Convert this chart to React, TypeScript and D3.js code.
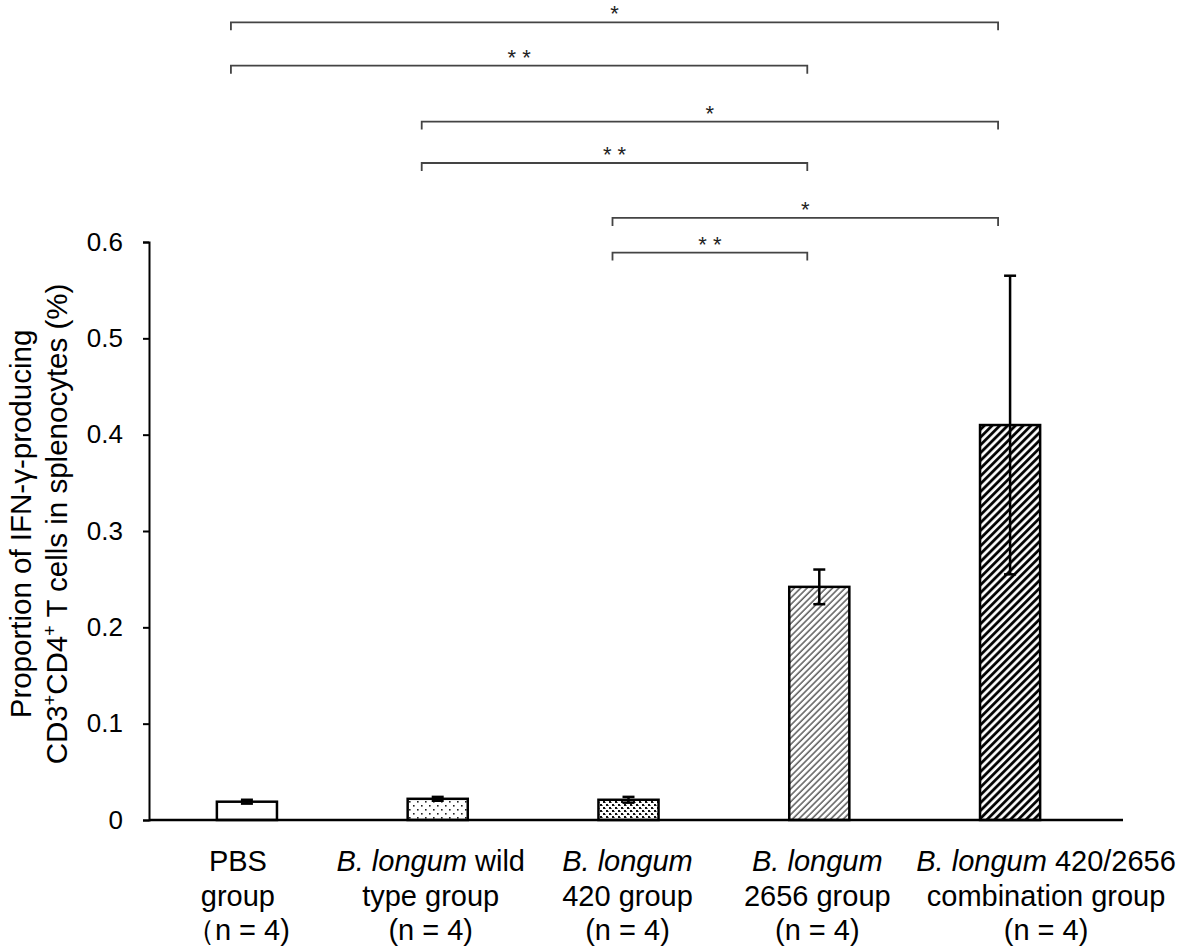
import React, { useEffect, useRef } from "react";
import * as d3 from "d3";

const groups = ["PBS", "WT", "420", "2656", "combo"];
const means = [0.019, 0.022, 0.021, 0.242, 0.41];
const errors = [0.002, 0.002, 0.003, 0.018, 0.155];
const yTicks = [0, 0.1, 0.2, 0.3, 0.4, 0.5, 0.6];
const fills = ["white", "url(#dots)", "url(#dense)", "url(#lightdiag)", "url(#darkdiag)"];

// each label is a list of lines; each line a list of [text, italic]
const xLabels: [string, boolean][][][] = [
  [[["PBS", false]], [["group", false]], [["\uff08n = 4)", false]]],
  [[["B. longum", true], [" wild", false]], [["type group", false]], [["(n = 4)", false]]],
  [[["B. longum", true]], [["420 group", false]], [["(n = 4)", false]]],
  [[["B. longum", true]], [["2656 group", false]], [["(n = 4)", false]]],
  [[["B. longum", true], [" 420/2656", false]], [["combination group", false]], [["(n = 4)", false]]],
];

// significance brackets: from group, to group, label, height (in axis units)
const bracketFrom = [0, 0, 1, 1, 2, 2];
const bracketTo = [4, 3, 4, 3, 4, 3];
const bracketStars = ["*", "* *", "*", "* *", "*", "* *"];
const bracketLevel = [0.828, 0.783, 0.725, 0.682, 0.625, 0.589];

const yTitle = ["Proportion of IFN-\u03b3-producing", "CD3\u207aCD4\u207a T cells in splenocytes (%)"];

export default function App() {
  const ref = useRef<SVGSVGElement>(null);

  useEffect(() => {
    const svg = d3.select(ref.current);
    svg.selectAll("*").remove();
    const font = "'Liberation Sans', Arial, sans-serif";

    const defs = svg.append("defs");
    const dots = defs.append("pattern").attr("id", "dots").attr("patternUnits", "userSpaceOnUse")
      .attr("width", 8).attr("height", 8);
    dots.append("rect").attr("width", 8).attr("height", 8).attr("fill", "white");
    dots.append("rect").attr("x", 1).attr("y", 1).attr("width", 1.6).attr("height", 1.6).attr("fill", "#222");
    dots.append("rect").attr("x", 5).attr("y", 5).attr("width", 1.6).attr("height", 1.6).attr("fill", "#222");

    const dense = defs.append("pattern").attr("id", "dense").attr("patternUnits", "userSpaceOnUse")
      .attr("width", 6).attr("height", 6);
    dense.append("rect").attr("width", 6).attr("height", 6).attr("fill", "white");
    dense.append("rect").attr("x", 0).attr("y", 0).attr("width", 2).attr("height", 2).attr("fill", "#111");
    dense.append("rect").attr("x", 3).attr("y", 3).attr("width", 2).attr("height", 2).attr("fill", "#111");
    dense.append("rect").attr("x", 2).attr("y", 1).attr("width", 1).attr("height", 1).attr("fill", "#777");
    dense.append("rect").attr("x", 5).attr("y", 4).attr("width", 1).attr("height", 1).attr("fill", "#777");

    const light = defs.append("pattern").attr("id", "lightdiag").attr("patternUnits", "userSpaceOnUse")
      .attr("width", 4.5).attr("height", 4.5).attr("patternTransform", "rotate(45)");
    light.append("rect").attr("width", 4.5).attr("height", 4.5).attr("fill", "white");
    light.append("line").attr("x1", 1).attr("x2", 1).attr("y1", 0).attr("y2", 4.5)
      .attr("stroke", "#333").attr("stroke-width", 1.2);

    const dark = defs.append("pattern").attr("id", "darkdiag").attr("patternUnits", "userSpaceOnUse")
      .attr("width", 5.5).attr("height", 5.5).attr("patternTransform", "rotate(45)");
    dark.append("rect").attr("width", 5.5).attr("height", 5.5).attr("fill", "white");
    dark.append("line").attr("x1", 1.5).attr("x2", 1.5).attr("y1", 0).attr("y2", 5.5)
      .attr("stroke", "#000").attr("stroke-width", 2.8);

    const axisX = 149;
    const x = d3.scaleBand().domain(groups).range([152, 1105]).paddingInner(0.685).paddingOuter(0.34);
    const y = d3.scaleLinear().domain([0, 0.6]).range([820, 242]);

    // y axis
    const yAxis = svg.append("g").attr("transform", `translate(${axisX},0)`)
      .call(d3.axisLeft(y).tickValues(yTicks).tickSize(6).tickPadding(20).tickFormat(d3.format("")));
    yAxis.select(".domain").attr("stroke", "#000").attr("stroke-width", 2);
    yAxis.selectAll(".tick line").attr("stroke", "#000").attr("stroke-width", 2);
    yAxis.selectAll("text").attr("font-size", 26).attr("font-family", font).attr("fill", "#000");

    // bars
    svg.append("g").selectAll("rect").data(groups).join("rect")
      .attr("x", d => x(d)!)
      .attr("y", (d, i) => y(means[i]))
      .attr("width", x.bandwidth())
      .attr("height", (d, i) => y(0) - y(means[i]))
      .attr("fill", (d, i) => fills[i])
      .attr("stroke", "#000").attr("stroke-width", 2.5);

    // baseline
    svg.append("line").attr("x1", axisX).attr("x2", 1123).attr("y1", y(0)).attr("y2", y(0))
      .attr("stroke", "#000").attr("stroke-width", 2.5);

    // error bars
    const eb = svg.append("g").attr("stroke", "#000").attr("stroke-width", 2.5);
    groups.forEach((g, i) => {
      const cx = x(g)! + x.bandwidth() / 2;
      const hi = y(means[i] + errors[i]);
      const lo = y(means[i] - errors[i]);
      eb.append("line").attr("x1", cx).attr("x2", cx).attr("y1", hi).attr("y2", lo);
      eb.append("line").attr("x1", cx - 6).attr("x2", cx + 6).attr("y1", hi).attr("y2", hi);
      eb.append("line").attr("x1", cx - 6).attr("x2", cx + 6).attr("y1", lo).attr("y2", lo);
    });

    // significance brackets
    const br = svg.append("g");
    bracketFrom.forEach((f, i) => {
      const x1 = x(groups[f])! + x.bandwidth() / 2 - 16;
      const x2 = x(groups[bracketTo[i]])! + x.bandwidth() / 2 - 12;
      const yy = y(bracketLevel[i]);
      br.append("path")
        .attr("d", `M${x1},${yy + 8}V${yy}H${x2}V${yy + 8}`)
        .attr("fill", "none").attr("stroke", "#444").attr("stroke-width", 1.8);
      br.append("text").attr("x", (x1 + x2) / 2).attr("y", yy - 1)
        .attr("text-anchor", "middle").attr("font-size", 22).attr("font-family", font)
        .attr("fill", "#222").text(bracketStars[i]);
    });

    // x labels
    const labelShift = [-9, -7, -1, -2, 36];
    const lab = svg.append("g").attr("font-family", font).attr("font-size", 29).attr("fill", "#000");
    xLabels.forEach((lines, i) => {
      const cx = x(groups[i])! + x.bandwidth() / 2 + labelShift[i];
      lines.forEach((parts, j) => {
        const t = lab.append("text").attr("x", cx).attr("y", 871 + j * 34.5).attr("text-anchor", "middle");
        parts.forEach(([s, it]) => {
          t.append("tspan").attr("font-style", it ? "italic" : "normal").text(s);
        });
      });
    });

    // y title
    const yt = svg.append("g").attr("font-family", font).attr("font-size", 29.5).attr("fill", "#000");
    yTitle.forEach((s, j) => {
      const t = yt.append("text")
        .attr("transform", `translate(${31 + j * 36},524) rotate(-90)`)
        .attr("text-anchor", "middle");
      if (j === 0) {
        t.text(s);
      } else {
        t.append("tspan").text("CD3");
        t.append("tspan").attr("font-size", 18).attr("dy", -11).text("+");
        t.append("tspan").attr("dy", 11).text("CD4");
        t.append("tspan").attr("font-size", 18).attr("dy", -11).text("+");
        t.append("tspan").attr("dy", 11).text(" T cells in splenocytes (%)");
      }
    });
  }, []);

  return (
    <svg ref={ref} width={1180} height={950}
      style={{ position: "absolute", left: 0, top: 0, background: "white" }} />
  );
}
